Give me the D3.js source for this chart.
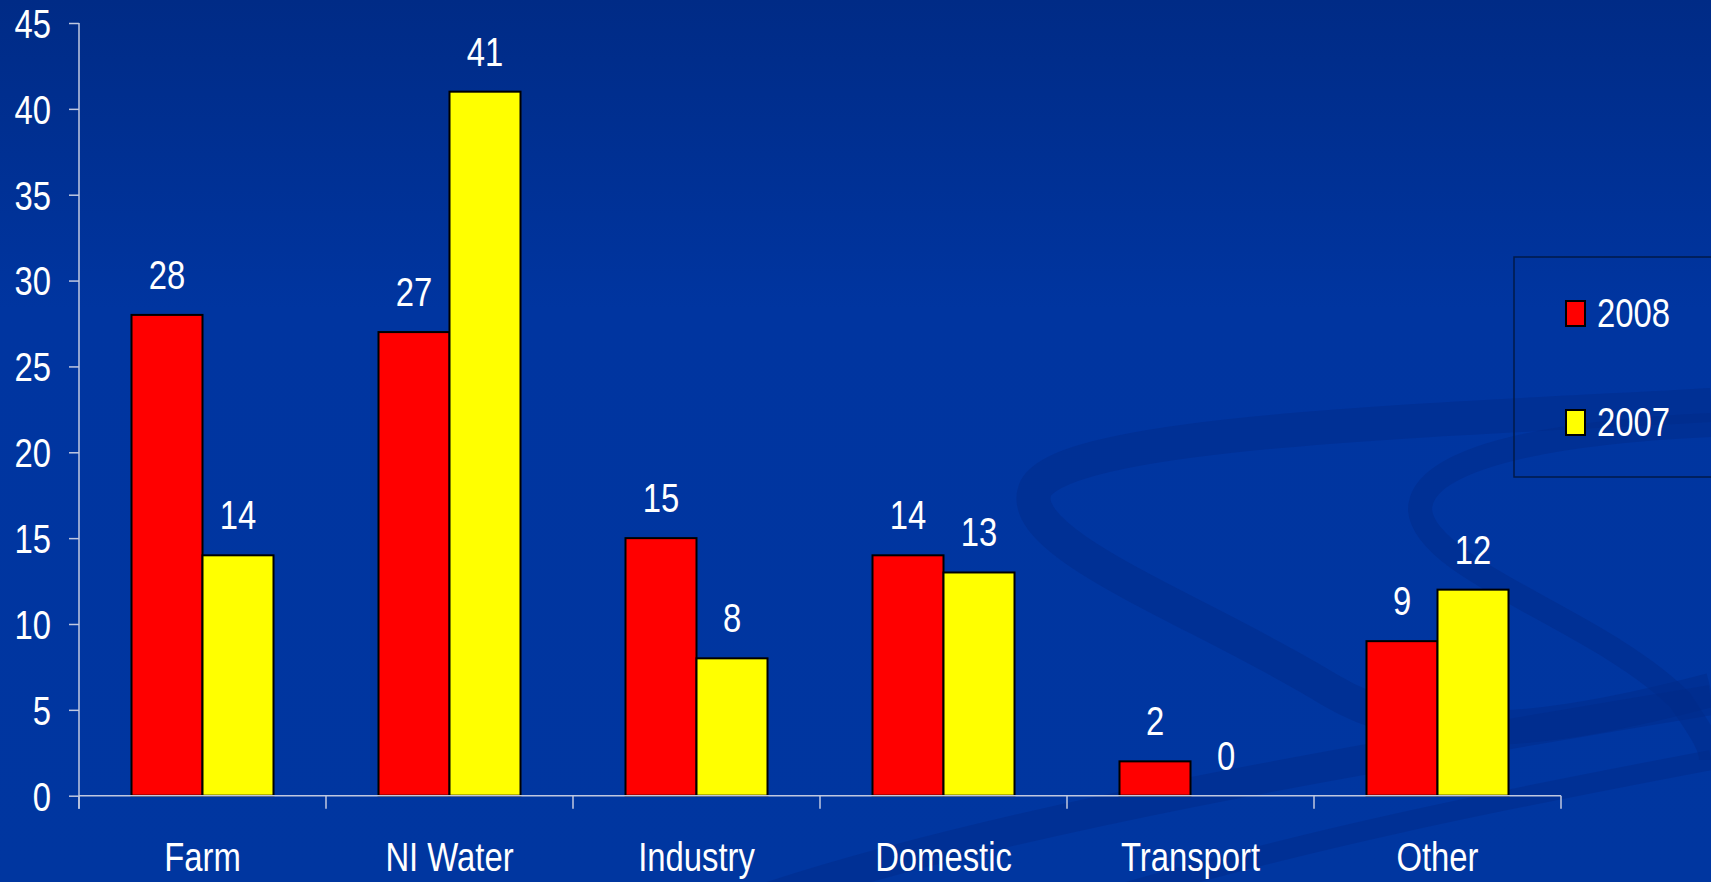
<!DOCTYPE html>
<html>
<head>
<meta charset="utf-8">
<script src="https://cdn.jsdelivr.net/npm/d3@7"></script>
<style>
  html, body { margin: 0; padding: 0; background: #0035a0; overflow: hidden; }
  text { font-family: "Liberation Sans", Arial, sans-serif; fill: #fff; }
</style>
</head>
<body>
<svg id="canvas" width="1711" height="882"></svg>
<script>
var categories = ['Farm', 'NI Water', 'Industry', 'Domestic', 'Transport', 'Other'];
var series = ['2008', '2007'];
var values2008 = [28, 27, 15, 14, 2, 9];
var values2007 = [14, 41, 8, 13, 0, 12];
var yTicks = [0, 5, 10, 15, 20, 25, 30, 35, 40, 45];
var colors = ['#ff0000', '#ffff00'];

var svg = d3.select('#canvas'),
  W = 1711, H = 882,
  mLeft = 79, mRight = 1561, mTop = 23, mBottom = 795.7;

// background
var defs = svg.append('defs');
var grad = defs.append('linearGradient')
  .attr('id', 'bg').attr('x1', 0).attr('y1', 0).attr('x2', 0).attr('y2', 1);
grad.append('stop').attr('offset', '0%').attr('stop-color', '#002b86');
grad.append('stop').attr('offset', '35%').attr('stop-color', '#0035a0');
grad.append('stop').attr('offset', '100%').attr('stop-color', '#0036a0');
svg.append('rect').attr('width', W).attr('height', H).attr('fill', 'url(#bg)');

// decorative swoosh
var swoosh = svg.append('g').attr('fill', 'none').attr('stroke', '#002a88').attr('stroke-opacity', 0.45);
swoosh.append('path')
  .attr('stroke-width', 34)
  .attr('d', 'M1711,405 C1450,420 1060,430 1035,490 C1015,545 1200,610 1330,690 C1430,750 1560,730 1711,690');
swoosh.append('path')
  .attr('stroke-width', 24)
  .attr('d', 'M1711,425 C1560,432 1420,455 1420,510 C1425,570 1600,620 1680,700 C1700,730 1711,745 1711,760');
swoosh.append('path')
  .attr('stroke-width', 30)
  .attr('d', 'M760,900 C1000,820 1350,760 1711,700');
swoosh.append('path')
  .attr('stroke-width', 20)
  .attr('d', 'M1100,900 C1300,840 1500,800 1711,760');

var x0 = d3.scaleBand().domain(categories).range([mLeft, mRight]).padding(0);
var x1 = d3.scaleBand().domain(series).range([x0.bandwidth() / 2 - 71, x0.bandwidth() / 2 + 71]);
var y = d3.scaleLinear().domain([0, 45]).range([mBottom, mTop]);

var rows = categories.map(function(c, i) {
  return {cat: c, vals: [{s: '2008', v: values2008[i]}, {s: '2007', v: values2007[i]}]};
});

// y axis
var yAxis = svg.append('g')
  .attr('transform', 'translate(' + mLeft + ',0)')
  .call(d3.axisLeft(y).tickValues(yTicks).tickSize(10).tickPadding(18));
yAxis.select('.domain').attr('stroke', '#c0c8e0').attr('stroke-width', 1.5).attr('d', 'M0,' + mTop + 'V' + (mBottom + 13));
yAxis.selectAll('.tick line').attr('stroke', '#c0c8e0').attr('stroke-width', 1.5);
yAxis.selectAll('.tick text').style('font-size', '40px').attr('fill', '#fff').attr('dy', '0.36em');

// bars
var groups = svg.selectAll('.cat').data(rows).enter().append('g')
  .attr('class', 'cat')
  .attr('transform', function(d) { return 'translate(' + x0(d.cat) + ',0)'; });

groups.selectAll('rect').data(function(d) { return d.vals; }).enter().append('rect')
  .attr('x', function(d) { return x1(d.s); })
  .attr('width', x1.bandwidth())
  .attr('y', function(d) { return y(d.v); })
  .attr('height', function(d) { return mBottom - y(d.v); })
  .attr('fill', function(d) { return colors[series.indexOf(d.s)]; })
  .attr('stroke', '#000')
  .attr('stroke-width', function(d) { return d.v > 0 ? 2 : 0; });

groups.selectAll('text.val').data(function(d) { return d.vals; }).enter().append('text')
  .attr('class', 'val')
  .attr('x', function(d) { return x1(d.s) + x1.bandwidth() / 2; })
  .attr('y', function(d) { return y(d.v) - 26; })
  .attr('text-anchor', 'middle')
  .style('font-size', '40px')
  .text(function(d) { return d.v; });

// x axis
var xAxis = svg.append('g')
  .attr('transform', 'translate(0,' + mBottom + ')')
  .call(d3.axisBottom(x0).tickSize(0).tickPadding(47));
xAxis.select('.domain').attr('stroke', '#c0c8e0').attr('stroke-width', 1.5).attr('d', 'M' + mLeft + ',0H' + mRight);
xAxis.selectAll('.tick text').style('font-size', '40px').attr('fill', '#fff');
xAxis.selectAll('.sep').data(d3.range(categories.length + 1)).enter().append('line')
  .attr('class', 'sep')
  .attr('x1', function(i) { return mLeft + i * x0.step(); })
  .attr('x2', function(i) { return mLeft + i * x0.step(); })
  .attr('y1', 0).attr('y2', 13)
  .attr('stroke', '#c0c8e0').attr('stroke-width', 1.5);

// legend
var legend = svg.append('g');
legend.append('rect')
  .attr('x', 1514).attr('y', 257).attr('width', 230).attr('height', 220)
  .attr('fill', 'none').attr('stroke', '#001a4a').attr('stroke-width', 1.5);
var li = legend.selectAll('.item').data(series).enter().append('g')
  .attr('class', 'item')
  .attr('transform', function(d, i) { return 'translate(1566,' + (301 + i * 109) + ')'; });
li.append('rect').attr('width', 19).attr('height', 25)
  .attr('fill', function(d, i) { return colors[i]; })
  .attr('stroke', '#000').attr('stroke-width', 2);
li.append('text').attr('x', 31).attr('y', 26).style('font-size', '40px').text(function(d) { return d; });

// narrow the glyphs like Arial Narrow
svg.selectAll('text').each(function() {
  var w = this.getComputedTextLength();
  d3.select(this).attr('textLength', w * 0.82).attr('lengthAdjust', 'spacingAndGlyphs');
});
</script>
</body>
</html>
